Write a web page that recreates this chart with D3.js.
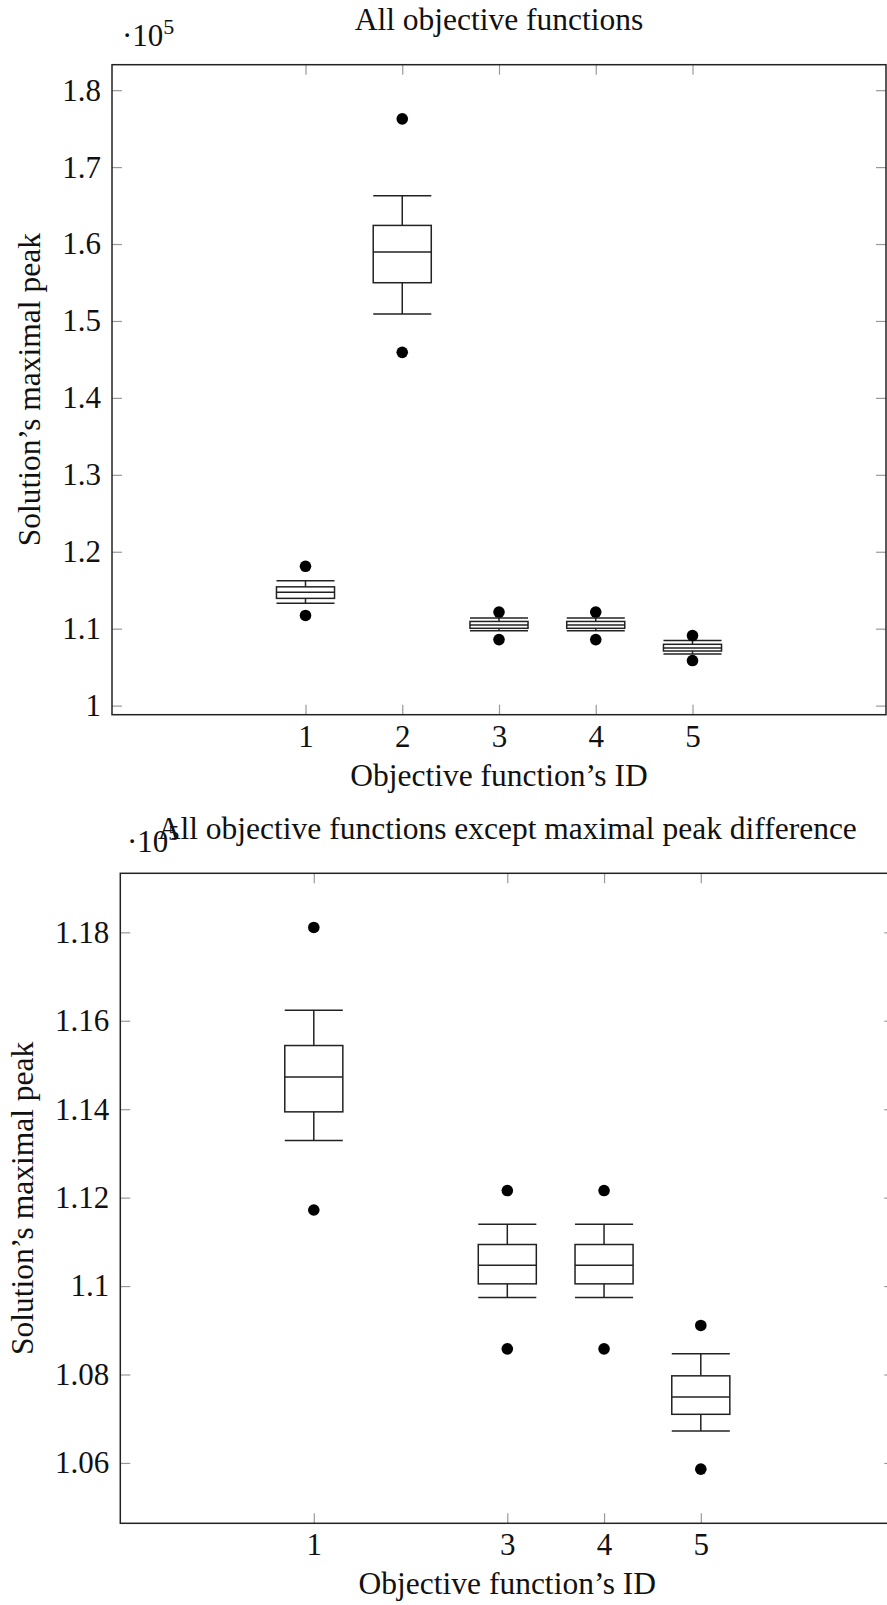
<!DOCTYPE html>
<html>
<head>
<meta charset="utf-8">
<script src="https://cdn.jsdelivr.net/npm/d3@7"></script>
<style>
  body { margin: 0; background: #fff; }
  svg text { font-family: "Liberation Serif", "Times New Roman", serif; fill: #111; }
</style>
</head>
<body>
<div id="container"></div>
<script>
// box plot statistics per objective function (values x 10^5)
let ids = [1, 2, 3, 4, 5];
let lowWhisker = [1.1329, 1.5090, 1.0974, 1.0974, 1.0672];
let lowQuartile = [1.1394, 1.5497, 1.1005, 1.1005, 1.0710];
let medians = [1.1473, 1.5896, 1.1047, 1.1047, 1.0749];
let highQuartile = [1.1544, 1.6242, 1.1094, 1.1094, 1.0797];
let highWhisker = [1.1624, 1.6627, 1.1140, 1.1140, 1.0847];
let outlierHigh = [1.1811, 1.7627, 1.1216, 1.1216, 1.0911];
let outlierLow = [1.1172, 1.4592, 1.0858, 1.0858, 1.0586];

let topIds = [1, 2, 3, 4, 5];
let bottomIds = [1, 3, 4, 5];
let topTicks = [1, 1.1, 1.2, 1.3, 1.4, 1.5, 1.6, 1.7, 1.8];
let bottomTicks = [1.06, 1.08, 1.1, 1.12, 1.14, 1.16, 1.18];

let w = 887;
let h = 1605;
let serif = "'Liberation Serif', 'Times New Roman', serif";

let viz = d3.select("#container").append("svg")
    .attr("width", w)
    .attr("height", h)
    .attr("font-family", serif)
    .style("display", "block");

let boxes = ids.map((id, i) => ({
  id: id,
  lw: lowWhisker[i], q1: lowQuartile[i], med: medians[i],
  q3: highQuartile[i], hw: highWhisker[i],
  out: [outlierHigh[i], outlierLow[i]]
}));

function panel(opt) {
  let data = boxes.filter(b => opt.ids.includes(b.id));
  let lo = d3.min(data, d => d3.min(d.out));
  let hi = d3.max(data, d => d3.max(d.out));
  let pad = (hi - lo) * 0.1;

  let x = d3.scaleLinear().domain([-1, 7]).range([0, opt.width]);
  let y = d3.scaleLinear().domain([lo - pad, hi + pad]).range([opt.height, 0]);

  let g = viz.append("g").attr("transform", `translate(${opt.left},${opt.top})`);

  let fmt = v => String(+v.toFixed(2));

  // axes, ticks pointing inwards, mirrored on top and right
  let left = g.append("g").call(d3.axisLeft(y).tickValues(opt.ticks).tickFormat(fmt).tickSize(-10).tickPadding(11));
  let right = g.append("g").attr("transform", `translate(${opt.width},0)`)
    .call(d3.axisRight(y).tickValues(opt.ticks).tickFormat("").tickSize(-10));
  let bottom = g.append("g").attr("transform", `translate(0,${opt.height})`)
    .call(d3.axisBottom(x).tickValues(opt.ids).tickFormat(d3.format("d")).tickSize(-10).tickPadding(10));
  let top = g.append("g").call(d3.axisTop(x).tickValues(opt.ids).tickFormat("").tickSize(-10));

  [left, right, bottom, top].forEach(a => {
    a.attr("font-family", serif).attr("font-size", 31);
    a.select(".domain").remove();
    a.selectAll(".tick line").attr("stroke", "#999").attr("stroke-width", 1.2);
    a.selectAll(".tick text").attr("fill", "#111");
  });

  g.append("rect")
    .attr("width", opt.width)
    .attr("height", opt.height)
    .attr("fill", "none")
    .attr("stroke", "#222")
    .attr("stroke-width", 1.5);

  let bw = x(0.3) - x(0);
  let bx = g.selectAll(".box").data(data).enter().append("g")
    .attr("class", "box")
    .attr("stroke", "#222")
    .attr("stroke-width", 1.5)
    .attr("fill", "none");

  bx.append("line").attr("x1", d => x(d.id)).attr("x2", d => x(d.id))
    .attr("y1", d => y(d.hw)).attr("y2", d => y(d.q3));
  bx.append("line").attr("x1", d => x(d.id)).attr("x2", d => x(d.id))
    .attr("y1", d => y(d.q1)).attr("y2", d => y(d.lw));
  bx.append("line").attr("x1", d => x(d.id) - bw).attr("x2", d => x(d.id) + bw)
    .attr("y1", d => y(d.hw)).attr("y2", d => y(d.hw));
  bx.append("line").attr("x1", d => x(d.id) - bw).attr("x2", d => x(d.id) + bw)
    .attr("y1", d => y(d.lw)).attr("y2", d => y(d.lw));
  bx.append("rect")
    .attr("x", d => x(d.id) - bw)
    .attr("y", d => y(d.q3))
    .attr("width", bw * 2)
    .attr("height", d => y(d.q1) - y(d.q3))
    .attr("fill", "#fff");
  bx.append("line").attr("x1", d => x(d.id) - bw).attr("x2", d => x(d.id) + bw)
    .attr("y1", d => y(d.med)).attr("y2", d => y(d.med));

  bx.selectAll("circle").data(d => d.out.map(v => ({id: d.id, v: v}))).enter()
    .append("circle")
      .attr("cx", d => x(d.id))
      .attr("cy", d => y(d.v))
      .attr("r", 5.8)
      .attr("fill", "#000")
      .attr("stroke", "none");

  // labels
  g.append("text")
    .attr("x", opt.width / 2)
    .attr("y", opt.height + 71)
    .attr("text-anchor", "middle")
    .attr("font-size", 31.5)
    .text("Objective function\u2019s ID");

  g.append("text")
    .attr("transform", `translate(${opt.yLabelX - opt.left},${opt.height / 2}) rotate(-90)`)
    .attr("text-anchor", "middle")
    .attr("font-size", 31.5)
    .text("Solution\u2019s maximal peak");

  viz.append("text")
    .attr("x", opt.left + opt.width / 2)
    .attr("y", opt.titleY)
    .attr("text-anchor", "middle")
    .attr("font-size", 31.5)
    .text(opt.title);

  // the overlap with the lower title is in the original too
  let exp = viz.append("text")
    .attr("x", opt.expX)
    .attr("y", opt.expY)
    .attr("font-size", 31);
  exp.append("tspan").text("\u00b710");
  exp.append("tspan").attr("dy", -12).attr("font-size", 22).text("5");
}

panel({
  ids: topIds, ticks: topTicks,
  left: 112, top: 64.7, width: 774, height: 650,
  title: "All objective functions", titleY: 30,
  expX: 122, expY: 46, yLabelX: 39.5
});

panel({
  ids: bottomIds, ticks: bottomTicks,
  left: 120.3, top: 873.3, width: 774, height: 650,
  title: "All objective functions except maximal peak difference", titleY: 838.5,
  expX: 127, expY: 852, yLabelX: 33
});
</script>
</body>
</html>
